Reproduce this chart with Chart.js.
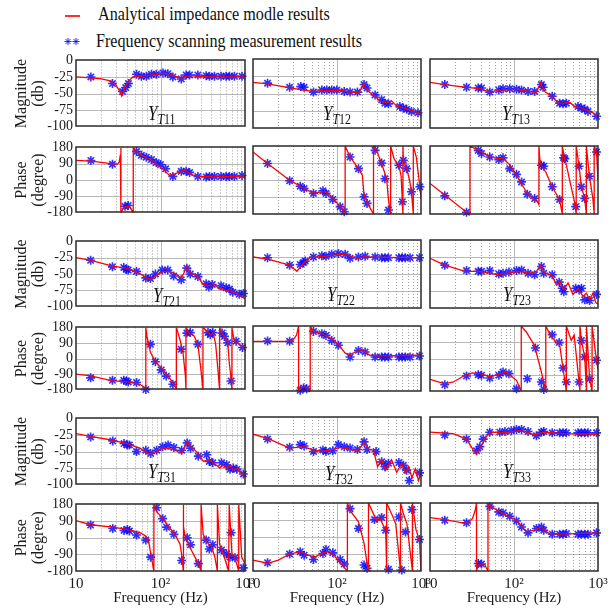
<!DOCTYPE html>
<html>
<head>
<meta charset="utf-8">
<script src="https://cdn.jsdelivr.net/npm/chart.js@4.4.1/dist/chart.umd.min.js"></script>
<style>
body{margin:0;background:#fff;width:615px;height:608px;overflow:hidden;position:relative;font-family:"Liberation Serif","Times New Roman",serif;}
canvas{position:absolute;}
.txt{position:absolute;white-space:nowrap;line-height:1;color:#111;transform-origin:0 0;}
.plab{position:absolute;white-space:nowrap;line-height:1;color:#111;font-size:20px;transform:scaleX(0.85);transform-origin:0 0;}
.plab span{font-size:14px;position:relative;top:4px;}
</style>
</head>
<body>
<div style="position:absolute;left:65px;top:15px;width:15px;height:1.5px;background:#ff3030"></div>
<canvas id="legendStars" width="24" height="14" style="left:61px;top:35px"></canvas>
<div class="txt" style="left:98px;top:4px;font-size:19px;transform:scaleX(0.85)">Analytical impedance modle results</div>
<div class="txt" style="left:96px;top:30.6px;font-size:19px;transform:scaleX(0.85)">Frequency scanning measurement results</div>
<script>
const SERIF = '"Liberation Serif", "Times New Roman", serif';
Chart.defaults.font.family = SERIF;
Chart.defaults.color = '#1a1a1a';

// [frequency Hz, value] pairs
// Y_T11
const t11Mag = [[10,-25],[15,-26.5],[20,-28],[24,-30],[27,-32],[30,-38],[33,-47],[34.8,-54],[36.5,-46],[38,-40],[41.5,-32],[47,-25],[55,-24],[70,-23],[90,-21],[110,-19.5],[125,-20],[145,-23.5],[170,-26.5],[195,-24],[225,-23],[280,-24],[400,-25],[1000,-25]];
const t11MagScan = [[15,-25],[27,-35],[35.5,-47],[38.8,-41],[41.8,-35],[52,-21],[59.4,-24],[68,-24],[78,-21],[89,-21],[107,-19],[122,-20],[140,-25],[176,-28],[201,-22],[221,-22],[277,-22],[347,-23],[380,-24],[435,-24],[521,-24],[597,-24],[654,-24],[748,-24],[922,-24]];
const t11Ph = [[10,108],[15,104],[20,97],[27,89],[31,88],[32.5,100],[33.5,140],[34,180],[34,-180],[36,-160],[38,-148],[41.5,-146],[44,-155],[47.6,-180],[47.6,180],[50,165],[52,157],[62.7,131],[75,113],[90,87],[107,60],[128,25],[140,30],[168,43],[192,55],[232,30],[289,20],[455,17],[1000,22]];
const t11PhScan = [[15,108],[27,87],[38,-145],[41.5,-141],[52,157],[59.4,136],[68,126],[78,113],[89,96],[100,85],[115,62],[140,20],[176,48],[201,48],[221,42],[277,20],[347,17],[380,20],[435,20],[521,20],[597,20],[654,20],[748,20],[922,25]];
// Y_T12
const t12Mag = [[10,-34],[15,-36],[27.8,-42],[40,-45],[52.5,-47],[70,-46],[109,-45],[140,-48],[180,-49],[195,-43],[207,-35],[220,-42],[237,-47],[284,-54],[324,-61],[390,-63],[446,-61],[513,-68],[617,-71],[742,-74],[890,-77],[1000,-81]];
const t12MagScan = [[14.9,-35],[27.3,-41],[37,-40],[40.6,-41],[52.5,-48],[66,-45],[75.6,-45],[86.5,-45],[99.5,-45],[122,-47],[143,-48],[175,-48],[210,-37],[228,-42],[284,-52],[340,-59],[372,-64],[410,-65],[560,-69],[617,-71],[675,-73],[770,-76],[920,-78]];
const t12Ph = [[10,148],[14.9,87],[27.3,-1],[36.5,-33],[52.5,-71],[62,-64],[72,-62],[85,-85],[109,-141],[125,-180],[125,180],[143,122],[180,60],[200,25],[210,-80],[237,-133],[272,-180],[272,180],[300,148],[340,87],[390,7],[410,-106],[435,-180],[435,180],[480,110],[545,78],[580,20],[600,-115],[610,-180],[610,180],[617,104],[675,60],[730,0],[770,-62],[810,-180],[810,180],[880,120],[970,-36],[1000,-100]];
const t12PhScan = [[14.9,87],[27.3,-4],[36.5,-33],[40.6,-45],[52.5,-71],[68,-57],[74,-71],[89,-103],[109,-141],[122,-168],[143,122],[180,60],[210,-89],[228,-124],[284,157],[340,90],[372,7],[410,-159],[545,78],[600,-115],[617,104],[675,60],[770,-62],[970,-36]];
// Y_T13
const t13Mag = [[10,-34],[15,-37],[27.2,-41],[39.2,-43],[51.5,-48],[67.8,-45],[107,-44],[169,-48],[185,-48],[198,-40],[207,-34],[220,-42],[233,-47],[279,-54],[336,-64],[403,-64],[462,-63],[528,-69],[605,-70],[727,-74],[872,-78],[1000,-83]];
const t13MagScan = [[15,-37],[27.2,-41],[37.5,-42],[41,-42],[51.5,-48],[66,-45],[74,-43],[89,-43],[107,-44],[123,-45],[147,-47],[176,-47],[212,-37],[222,-41],[285,-54],[349,-64],[383,-65],[420,-64],[578,-69],[634,-71],[695,-73],[760,-76],[960,-83]];
const t13Ph = [[10,-18],[15,-80],[27.2,-171],[29.9,-180],[29.9,180],[37.5,157],[51.5,122],[66,113],[74,115],[89,80],[107,25],[140,-62],[175,-106],[190,-115],[198,-130],[198,180],[203,110],[212,78],[240,40],[285,-36],[349,-106],[376,-180],[376,180],[395,125],[420,80],[470,-20],[520,-106],[550,-180],[550,180],[595,73],[634,-36],[695,-98],[727,-180],[727,180],[790,20],[870,-100],[900,-180],[900,180],[960,148],[1000,0]];
const t13PhScan = [[15,-84],[27.2,-171],[37.5,157],[41,140],[51.5,122],[66,108],[74,118],[89,60],[107,30],[123,-10],[144,-75],[176,-98],[212,78],[226,73],[285,-36],[349,-103],[390,118],[403,113],[543,-141],[595,73],[634,-36],[695,-98],[790,20],[960,148]];
// Y_T21
const t21Mag = [[10,-25],[15,-29],[27,-38],[39.5,-41],[56.8,-49],[68,-56],[78,-59],[85,-54],[107,-46],[128,-46],[154,-50],[176,-56],[190,-48],[202,-39],[232,-49],[277,-54],[318,-66],[381,-68],[436,-66],[500,-73],[548,-73],[600,-76],[658,-73],[716,-78],[815,-81],[1000,-88]];
const t21MagScan = [[14.9,-29],[27,-39],[36.8,-40],[39.5,-43],[41.5,-44],[52,-46],[67,-56],[76,-57],[87,-50],[105,-44],[122,-44],[143,-53],[176,-59],[205,-41],[225,-50],[277,-54],[347,-65],[374,-70],[410,-66],[521,-68],[600,-71],[654,-73],[716,-78],[855,-81],[960,-80]];
const t21Ph = [[10,-90],[14.9,-100],[27,-130],[39.5,-134],[56.8,-149],[64,-165],[67,-180],[67,180],[69,128],[76,36],[87,-19],[107,-66],[128,-112],[150,-163],[154,-180],[154,180],[170,110],[185,30],[197,-100],[200,-180],[200,180],[215,150],[250,130],[277,82],[300,-60],[318,-180],[318,180],[360,155],[390,135],[420,150],[450,80],[485,-100],[500,-180],[500,180],[530,150],[570,128],[625,91],[650,-20],[690,-130],[700,-180],[700,180],[740,110],[785,100],[935,64],[1000,55]];
const t21PhScan = [[14.9,-112],[27,-126],[36.8,-126],[39.5,-130],[41.5,-136],[52,-139],[67,-180],[76,82],[87,-19],[102,-66],[117,-102],[140,-149],[176,54],[205,147],[225,150],[277,82],[365,150],[388,138],[415,150],[535,147],[570,128],[625,91],[685,-130],[785,100],[935,64]];
// Y_T22
const t22Mag = [[10,-25],[15,-28],[27.3,-37],[33.3,-46],[40,-34],[48,-26],[69,-24],[109,-21],[131,-22],[172,-27],[207,-25],[300,-25.5],[1000,-26]];
const t22MagScan = [[14.9,-26],[27.3,-37],[36.5,-36],[40,-33],[41.8,-31],[52.5,-25],[66,-23],[74,-24],[86.5,-21],[104,-20],[125,-21],[143,-27],[180,-25],[216,-24],[284,-25],[340,-26],[372,-26],[410,-26],[545,-26],[595,-26],[650,-26],[740,-26],[960,-26]];
const t22Ph = [[10,95],[27.3,95],[30,103],[33,130],[34.9,180],[34.9,-180],[38,-162],[41,-157],[44,-162],[48,-180],[48,180],[52.5,150],[66,137],[86.5,110],[104,78],[125,30],[143,22],[172,40],[200,50],[246,18],[340,14],[1000,18]];
const t22PhScan = [[14.9,97],[27.3,95],[36.5,-176],[40,-163],[43.5,-167],[52.5,150],[66,137],[74,128],[86.5,100],[104,73],[143,8],[180,45],[216,36],[284,8],[340,8],[372,8],[410,8],[545,8],[595,8],[650,8],[740,8],[960,14]];
// Y_T23
const t23Mag = [[10,-27],[15,-37],[26,-46],[39.2,-46],[62,-51],[81,-49],[117,-46],[154,-49],[185,-46],[207,-37],[233,-49],[279,-51],[321,-66],[351,-61],[392,-73],[440,-63],[504,-80],[578,-71],[662,-83],[727,-78],[794,-88],[872,-78],[940,-92],[1000,-94]];
const t23MagScan = [[15,-37],[27.2,-45],[37.5,-46],[41,-46],[51.5,-45],[66,-50],[74,-49],[87,-47],[107,-45],[123,-44],[147,-49],[176,-51],[212,-39],[226,-49],[285,-51],[345,-62],[376,-71],[392,-76],[543,-71],[595,-73],[634,-71],[695,-88],[794,-89],[960,-80]];
const t23Ph = [[10,-115],[15,-140],[19,-130],[26,-93],[32,-80],[39.2,-84],[51.5,-102],[65,-90],[80,-75],[107,-121],[122,-180],[122,180],[140,147],[175,73],[212,-75],[239,-180],[239,180],[270,130],[320,88],[345,95],[383,-53],[420,-180],[420,180],[480,100],[520,130],[595,-130],[610,-180],[610,180],[634,100],[695,8],[730,-180],[730,180],[794,-112],[850,-180],[850,180],[960,-10],[1000,-60]];
const t23PhScan = [[15,-145],[27.2,-97],[37.5,-90],[41,-93],[51.5,-108],[66,-93],[74,-75],[87,-84],[107,-167],[144,-112],[180,58],[212,-130],[226,-171],[285,132],[345,88],[383,-53],[420,-130],[595,-130],[634,100],[695,8],[794,-112],[960,-10]];
// Y_T31
const t31Mag = [[10,-23],[14.9,-27],[27.2,-33],[39.8,-38],[57.2,-45],[71.7,-53],[82,-53],[108,-44],[142,-47],[178,-53],[192,-45],[204,-36],[233,-43],[280,-53],[322,-65],[368,-62],[422,-67],[505,-75],[553,-70],[606,-75],[664,-70],[728,-78],[812,-75],[914,-84],[1000,-89]];
const t31MagScan = [[14.9,-28],[27.2,-34],[37,-38],[40.5,-40],[42.8,-40],[52,-50],[67,-48],[76.5,-53],[90,-48],[106,-43],[123,-40],[144,-44],[178,-48],[207,-37],[227,-45],[280,-57],[352,-55],[378,-65],[415,-67],[528,-67],[606,-70],[664,-77],[728,-75],[800,-77],[955,-84]];
const t31Ph = [[10,92],[14.9,70],[27.2,57],[39.8,45],[57.2,27],[64,15],[71.7,-8],[78,-105],[83.5,-180],[83.5,180],[90,141],[106,106],[123,62],[144,27],[170,-34],[180,-105],[186,-180],[186,180],[188,60],[195,10],[204,-17],[233,-69],[280,-140],[302,-180],[302,180],[320,18],[368,-34],[400,-43],[440,-105],[471,-180],[471,180],[500,-34],[553,-87],[640,-180],[650,180],[700,-87],[760,-109],[843,-180],[843,180],[914,-105],[1000,-140]];
const t31PhScan = [[14.9,68],[27.2,50],[37,39],[40.5,45],[42.8,36],[52,15],[67,-13],[76.5,-105],[90,162],[106,103],[118,57],[144,18],[178,-123],[207,0],[227,-38],[280,-140],[347,-13],[378,-61],[415,-38],[528,-66],[606,-87],[664,-105],[685,27],[760,-109],[955,-163]];
// Y_T32
const t32Mag = [[10,-25],[14.9,-31],[27.3,-45],[40,-43],[52.5,-48],[66,-50],[90.6,-47],[109,-44],[157,-48],[180,-48],[210,-37],[237,-47],[272,-48],[304,-72],[340,-62],[380,-77],[446,-62],[513,-80],[590,-67],[650,-81],[712,-72],[780,-88],[855,-75],[935,-92],[1000,-82]];
const t32MagScan = [[14.9,-32],[27.3,-44],[36.5,-40],[40.6,-42],[52.5,-50],[68,-48],[74,-50],[89,-49],[104,-40],[122,-43],[143,-45],[175,-47],[210,-36],[228,-47],[292,-50],[340,-65],[372,-72],[410,-67],[545,-66],[617,-70],[675,-77],[725,-92],[960,-81]];
const t32Ph = [[10,-122],[14.9,-139],[20,-122],[27.3,-90],[36.5,-78],[45,-96],[55,-105],[68,-84],[80,-78],[95,-105],[115,-148],[133,-180],[133,180],[143,141],[180,80],[210,-34],[228,-140],[237,-180],[237,180],[270,125],[300,80],[320,103],[380,36],[390,-180],[390,180],[460,110],[500,70],[570,-180],[570,180],[620,120],[680,70],[790,-180],[790,180],[870,40],[960,-20],[1000,-180]];
const t32PhScan = [[14.9,-136],[27.3,-90],[36.5,-78],[40.6,-96],[52.5,-119],[68,-87],[74,-66],[89,-84],[109,-119],[122,-143],[143,150],[180,45],[210,-148],[228,-166],[280,92],[340,103],[380,36],[410,-171],[545,106],[590,-175],[655,27],[780,145],[960,-13]];
// Y_T33
const t33Mag = [[10,-22],[18.9,-24],[27.2,-32],[32.8,-48],[35.8,-54],[39.2,-45],[47,-28],[54,-22],[74,-23],[107,-20],[134,-21],[176,-26],[222,-22],[400,-24],[1000,-25]];
const t33MagScan = [[15,-26],[27.2,-32],[35.8,-49],[39.2,-43],[43,-32],[51.5,-22],[67.8,-22],[78,-21],[93,-20],[107,-18],[123,-18],[147,-21],[185,-27],[212,-22],[226,-21],[285,-23],[349,-23],[383,-23],[420,-23],[578,-23],[634,-23],[695,-23],[760,-23],[960,-23]];
const t33Ph = [[10,103],[15,92],[27.2,71],[32,97],[34.5,140],[35.8,180],[35.8,-180],[37.5,-150],[41,-140],[45,-148],[49,-180],[49,180],[53,162],[74,124],[107,89],[140,27],[176,36],[212,53],[260,18],[350,15],[1000,22]];
const t33PhScan = [[15,89],[27.2,75],[37.5,-140],[41,-143],[51.5,162],[66,133],[74,127],[89,110],[107,85],[123,53],[147,22],[185,45],[212,53],[226,36],[285,15],[349,15],[383,15],[420,18],[578,15],[634,15],[695,15],[760,15],[960,22]];

const panelNames = ['11','12','13','21','22','23','31','32','33'];
const magLines = [t11Mag,t12Mag,t13Mag,t21Mag,t22Mag,t23Mag,t31Mag,t32Mag,t33Mag];
const magScans = [t11MagScan,t12MagScan,t13MagScan,t21MagScan,t22MagScan,t23MagScan,t31MagScan,t32MagScan,t33MagScan];
const phLines = [t11Ph,t12Ph,t13Ph,t21Ph,t22Ph,t23Ph,t31Ph,t32Ph,t33Ph];
const phScans = [t11PhScan,t12PhScan,t13PhScan,t21PhScan,t22PhScan,t23PhScan,t31PhScan,t32PhScan,t33PhScan];
const xTickText = {10: '10', 100: '10\u00b2', 1000: '10\u00b3'};

// layout of plot areas on the page
const colLeft = [76, 253, 430], colRight = [245, 421, 598];
const rowTop = [59, 146, 240, 326, 417, 503], rowBottom = [128, 214, 308, 391, 486, 571];
const labelPos = [[148,120],[323,120],[502,120],[153,302],[327,301],[503,301],[148,478],[325,480],[503,478]];

const toXY = arr => arr.map(p => ({x: p[0], y: p[1]}));

const frameGrid = {
  id: 'frameGrid',
  beforeDatasetsDraw(chart) {
    const {ctx, chartArea: a, scales: {x, y}} = chart;
    ctx.save();
    ctx.lineWidth = 1;
    ctx.strokeStyle = '#b8b8b8';
    y.ticks.forEach(t => {
      if (t.value <= y.min || t.value >= y.max) return;
      const py = Math.round(y.getPixelForValue(t.value)) + 0.5;
      ctx.beginPath(); ctx.moveTo(a.left, py); ctx.lineTo(a.right, py); ctx.stroke();
    });
    [10, 100].forEach(dec => {
      for (let k = 2; k <= 9; k++) {
        const px = Math.round(x.getPixelForValue(k * dec)) + 0.5;
        ctx.setLineDash([1, 2]);
        ctx.strokeStyle = '#8a8a8a';
        ctx.lineWidth = 0.8;
        ctx.beginPath(); ctx.moveTo(px, a.top); ctx.lineTo(px, a.bottom); ctx.stroke();
      }
    });
    ctx.setLineDash([]);
    ctx.lineWidth = 1;
    ctx.strokeStyle = '#b8b8b8';
    const pm = Math.round(x.getPixelForValue(100)) + 0.5;
    ctx.beginPath(); ctx.moveTo(pm, a.top); ctx.lineTo(pm, a.bottom); ctx.stroke();
    ctx.restore();
  },
  afterDatasetsDraw(chart) {
    const {ctx, chartArea: a} = chart;
    ctx.save();
    ctx.strokeStyle = '#2a2a2a';
    ctx.lineWidth = 1.5;
    ctx.strokeRect(Math.round(a.left), Math.round(a.top), Math.round(a.right - a.left), Math.round(a.bottom - a.top));
    ctx.restore();
  }
};

function makePanel(row, col, isMag, line, scan) {
  const yW = col === 0 ? 76 : 0;
  const bottomRow = row === 5;
  const xH = bottomRow ? 36 : 0;
  const padL = col === 0 ? 0 : 14, padR = 14, padT = 10, padB = bottomRow ? 0 : 10;
  const plotW = colRight[col] - colLeft[col], plotH = rowBottom[row] - rowTop[row];
  const cv = document.createElement('canvas');
  cv.width = padL + yW + plotW + padR;
  cv.height = padT + plotH + xH + padB;
  cv.style.left = (colLeft[col] - yW - padL) + 'px';
  cv.style.top = (rowTop[row] - padT) + 'px';
  cv.style.width = cv.width + 'px';
  cv.style.height = cv.height + 'px';
  document.body.appendChild(cv);

  new Chart(cv, {
    type: 'line',
    data: {
      datasets: [
        {
          label: 'Frequency scanning measurement results',
          data: toXY(scan),
          showLine: false,
          pointStyle: 'star',
          pointRadius: 4.5,
          pointBorderWidth: 1.6,
          pointBorderColor: 'rgba(10,10,255,0.85)',
          pointBackgroundColor: 'rgba(10,10,255,0.85)',
          clip: false,
          order: 2
        },
        {
          label: 'Analytical impedance modle results',
          data: toXY(line),
          borderColor: '#ff0000',
          borderWidth: 1.3,
          pointRadius: 0,
          tension: 0,
          fill: false,
          order: 1
        }
      ]
    },
    options: {
      responsive: false,
      animation: false,
      devicePixelRatio: 1,
      layout: {padding: {left: padL, right: padR, top: padT, bottom: padB}},
      plugins: {legend: {display: false}, tooltip: {enabled: false}},
      scales: {
        x: {
          type: 'logarithmic',
          min: 10,
          max: 1000,
          grid: {display: false, drawTicks: false},
          border: {display: false},
          ticks: {
            display: bottomRow,
            autoSkip: false,
            maxRotation: 0,
            padding: 4,
            font: {size: 15},
            callback: v => xTickText[v] || ''
          },
          title: {display: bottomRow, text: 'Frequency (Hz)', font: {size: 15}, padding: {top: 0, bottom: 0}},
          afterFit: s => { s.height = xH; }
        },
        y: {
          type: 'linear',
          min: isMag ? -100 : -180,
          max: isMag ? 0 : 180,
          grid: {display: false, drawTicks: false},
          border: {display: false},
          ticks: {display: col === 0, autoSkip: false, stepSize: isMag ? 25 : 90, padding: 3, font: {size: 14}},
          title: {
            display: col === 0,
            text: isMag ? ['Magnitude', '(db)'] : ['Phase', '(degree)'],
            font: {size: 16, lineHeight: 1.1},
            padding: {top: 12.7, bottom: 0}
          },
          afterFit: s => { s.width = yW; }
        }
      }
    },
    plugins: [frameGrid]
  });
}

panelNames.forEach((name, i) => {
  const col = i % 3, block = Math.floor(i / 3);
  makePanel(block * 2, col, true, magLines[i], magScans[i]);
  makePanel(block * 2 + 1, col, false, phLines[i], phScans[i]);
  const lab = document.createElement('div');
  lab.className = 'plab';
  lab.style.left = labelPos[i][0] + 'px';
  lab.style.top = (labelPos[i][1] - 16.75) + 'px';
  lab.innerHTML = '<i>Y</i><span><i>T</i>' + name + '</span>';
  document.body.appendChild(lab);
});

// legend asterisks
(function () {
  const c = document.getElementById('legendStars').getContext('2d');
  c.strokeStyle = 'rgba(10,10,255,0.85)';
  c.fillStyle = 'rgba(10,10,255,0.85)';
  [7, 15].forEach(cx => {
    Chart.helpers.drawPoint(c, {pointStyle: 'star', radius: 3.6, borderWidth: 1.5, rotation: 0}, cx, 6.5);
  });
})();
</script>
</body>
</html>
